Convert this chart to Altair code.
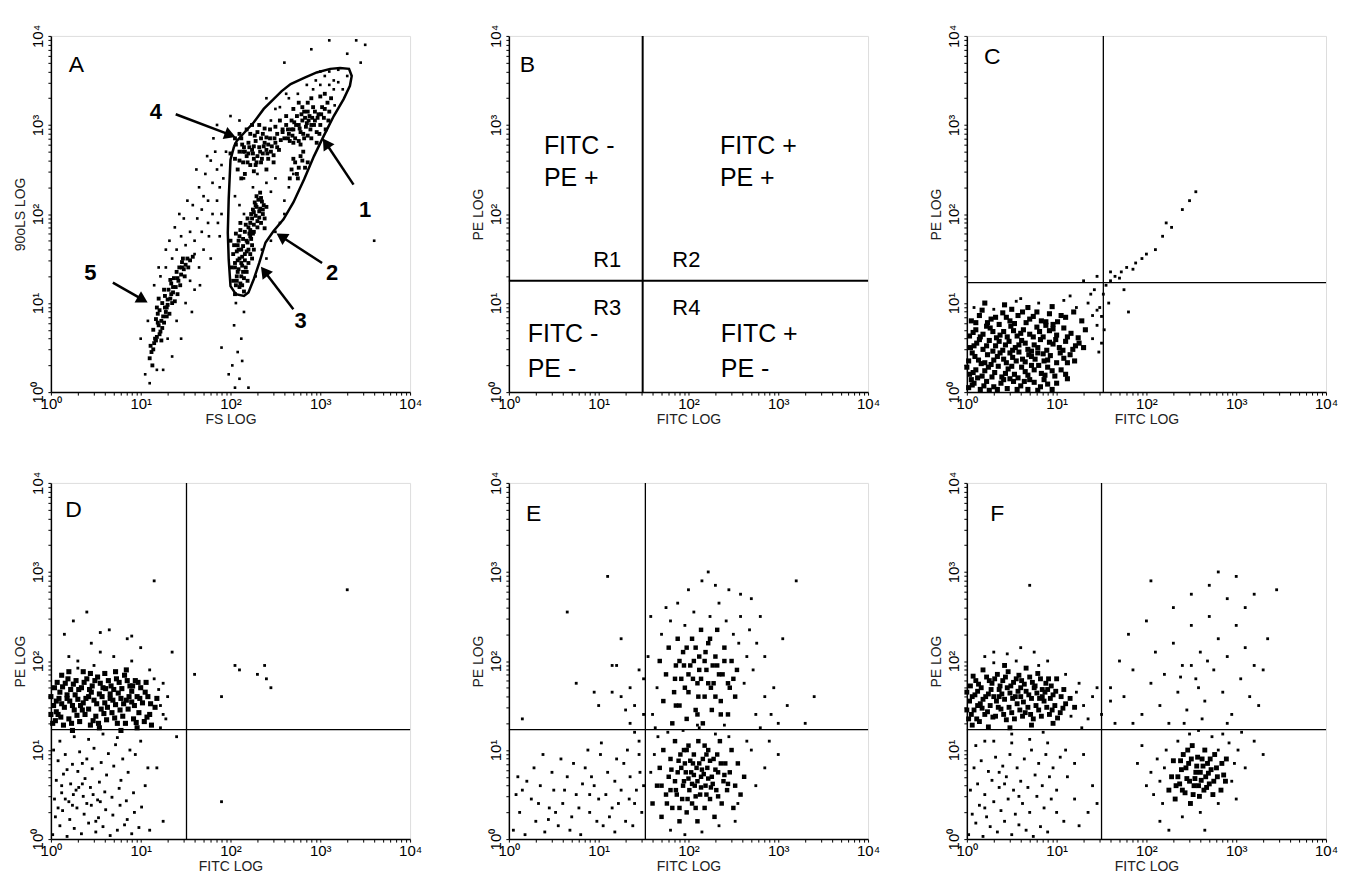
import math
import json
import altair as alt
import pandas as pd

# ---------------- axis text ----------------
MAJOR = [1, 10, 100, 1000, 10000]
TICK_LABELS = ["10⁰", "10¹", "10²", "10³", "10⁴"]
MINOR = [m * 10 ** e for e in range(4) for m in range(2, 10)]

X_TITLES = ["FS LOG", "FITC LOG", "FITC LOG", "FITC LOG", "FITC LOG", "FITC LOG"]
Y_TITLES = ["90oLS LOG", "PE LOG", "PE LOG", "PE LOG", "PE LOG", "PE LOG"]
LETTERS = ["A", "B", "C", "D", "E", "F"]
LETTER_X = [0.20, 0.12, 0.19, 0.16, 0.19, 0.26]   # decades
LETTER_Y = [3.60, 3.60, 3.68, 3.62, 3.57, 3.57]

# quadrant cursors (decades)
QUAD_X = [None, 1.49, 1.52, 1.51, 1.52, 1.50]
QUAD_Y = [None, 1.25, 1.23, 1.23, 1.23, 1.23]

# panel B labels
B_TEXT = ["FITC -", "PE +", "FITC +", "PE +", "FITC -", "PE -", "FITC +", "PE -"]
B_TEXT_X = [0.39, 0.39, 2.35, 2.35, 0.21, 0.21, 2.36, 2.36]
B_TEXT_Y = [2.67, 2.31, 2.67, 2.31, 0.56, 0.17, 0.56, 0.17]
B_REGION = ["R1", "R2", "R3", "R4"]
B_REGION_X = [0.94, 1.82, 0.94, 1.82]
B_REGION_Y = [1.41, 1.41, 0.87, 0.87]

# panel A gate (hundredths of decades)
GATE_A = [(204,276),(200,261),(198,217),(197,179),(198,149),(200,119),(206,110),(215,108),
          (220,112),(226,127),(232,145),(239,168),(248,181),(259,194),(270,213),(282,239),
          (293,265),(304,288),(315,310),(326,329),(333,344),(335,355),(332,363),(322,364),
          (311,363),(296,359),(282,353),(267,346),(257,338),(248,329),(237,318),(226,303),
          (215,291),(207,282),(204,276)]
ARROW_NUM = ["1", "2", "3", "4", "5"]
ARROW_TAIL = [(337,233),(302,145),(270,93),(139,312),(69,123)]
ARROW_TIP = [(302,286),(250,179),(233,142),(207,286),(109,100)]
ARROW_LABEL_POS = [(350,205),(313,134),(278,80),(117,314),(44,134)]

# ---------------- events (hundredths of decades) ----------------
A_CORE = [(112,45),(115,55),(118,62),(114,70),(120,75),(122,68),(117,82),(125,85),(121,92),(128,90),
 (124,100),(130,98),(127,108),(133,105),(131,115),(136,112),(134,122),(139,118),(137,128),(142,125),
 (140,135),(145,132),(143,140),(148,138),(146,146),(150,143),(152,150),(155,148),(119,88),(126,78),
 (129,95),(135,100),(141,110),(116,60),(110,38),(113,30),(123,58),(132,88),(138,102),(144,120),
 (149,130),(153,140),(158,152),(120,105),(126,115),(118,95),(133,126),(147,150),(111,52),(124,72),
 (203,125),(207,130),(211,122),(215,128),(209,138),(213,142),(218,135),(205,145),(210,150),(216,148),
 (220,145),(207,158),(212,160),(218,158),(222,155),(204,165),(209,170),(214,172),(219,168),(224,165),
 (206,178),(211,182),(216,180),(221,178),(208,135),(217,140),(213,152),(223,172),(201,140),(226,160),
 (210,118),(215,113),(205,110),(219,125),(212,130),(208,148),(214,164),(220,185),(226,180),(203,155),
 (217,188),(211,190),(224,150),(206,120),(200,170),
 (222,182),(226,188),(230,185),(234,190),(224,195),(228,198),(232,196),(236,200),(225,205),(229,208),
 (233,206),(237,210),(227,213),(231,216),(235,214),(223,200),(238,195),(230,192),(226,202),(232,203),
 (228,210),(234,218),(229,220),(222,190),(236,205),(240,208),(233,224),(225,178),(219,195),(238,184),
 (205,262),(210,270),(208,250),(214,258),(218,265),(215,275),(220,280),(212,285),(222,255),(226,262),
 (224,272),(228,282),(232,275),(230,265),(234,258),(236,268),(238,280),(240,272),(242,262),(244,285),
 (246,276),(248,266),(250,280),(252,290),(254,272),(256,283),(258,292),(216,245),(222,290),(230,292),
 (238,296),(226,248),(240,250),(206,278),(200,268),(212,240),(218,295),(236,290),(244,295),(250,298),
 (228,255),(234,285),(242,278),(248,258),(220,268),(260,285),(210,290),(224,300),(232,300),(205,285),
 (214,270),(226,276),(240,286),(252,275),
 (268,250),(272,258),(276,252),(280,260),(274,245),(278,265),(283,252),(270,262),(286,258),(275,240),
 (281,270),(266,240),
 (258,295),(262,300),(265,290),(268,305),(270,295),(272,285),(274,310),(276,300),(278,292),(280,305),
 (282,315),(284,298),(286,288),(288,310),(290,300),(292,320),(294,305),(296,292),(298,312),(300,300),
 (302,320),(304,308),(306,295),(308,325),(310,315),(266,282),(270,280),(276,282),(282,285),(290,285),
 (296,280),(262,310),(270,318),(280,320),(290,330),(300,332),(305,335),(312,330),(286,325),(276,325),
 (264,285),(273,300),(287,305),(299,290),(309,305),(294,315),(283,308),(278,278),(268,295),(255,305)]
A_CORE_B = [(114,48),(117,58),(121,65),(119,78),(123,80),(127,95),(130,104),(136,118),(141,128),(146,140),
 (129,85),(134,110),(205,140),(209,160),(212,145),(214,135),(216,155),(218,170),(210,175),(207,125),
 (213,120),(220,160),(222,175),(208,165),(210,260),(216,270),(221,275),(225,268),(229,258),(233,270),
 (237,276),(241,268),(245,270),(249,285),(213,278),(227,288),(219,258),(235,262),(264,295),(271,303),
 (277,296),(281,290),(285,302),(289,295),(293,300),(297,308),(301,312),(279,312),(291,308),(305,318),
 (286,315),(269,288)]
A_SPREAD = [(105,20),(110,10),(118,25),(108,80),(115,120),(122,130),(128,140),(135,150),(140,160),(132,170),
 (145,175),(150,165),(138,185),(155,180),(160,170),(148,195),(163,195),(158,210),(168,205),(170,220),
 (175,215),(165,230),(180,235),(172,245),(185,250),(178,260),(190,255),(183,270),(188,230),(175,190),
 (168,180),(180,200),(185,215),(192,240),(160,155),(170,160),(176,175),(186,190),(155,125),(165,140),
 (178,150),(190,200),(195,270),(150,100),(160,115),(120,140),(128,160),(143,200),(152,215),(162,250),
 (174,265),(181,285),(130,60),(140,80),(100,60),(125,25),(135,40),(145,60),(157,90),(166,120),(188,175),
 (205,5),(210,15),(202,30),(208,45),(212,60),(204,75),(215,90),(206,100),(198,20),(213,35),(220,5),(190,50),
 (235,160),(240,150),(228,130),(245,170),(250,180),(255,190),(215,200),(210,210),(245,225),(250,240),
 (260,215),(265,230),(240,235),(225,230),(215,240),(270,245),(280,260),(230,245),(205,220),(260,200),
 (316,322),(315,340),(300,345),(292,340),(310,345),(305,355),(315,350),(320,348),(295,350),(310,360),
 (285,345),(275,335),(265,330),(255,320),(325,340),(330,355),(320,362),(300,360),(262,335),(250,318),
 (245,305),(340,395),(330,380),(350,390),(200,310),(185,300),(240,330),(260,370),(290,385),(310,395),
 (195,290),(210,305),(345,370),(360,170)]

C_CORE = [(2,5),(8,10),(15,3),(22,12),(30,6),(38,10),(45,4),(52,12),(60,7),(68,3),(75,11),(82,6),(90,9),
 (5,14),(25,2),(48,15),(70,14),(95,3),(3,20),(10,25),(17,18),(24,28),(31,22),(39,17),(46,26),(53,20),
 (61,28),(68,19),(75,25),(83,21),(90,28),(98,18),(12,16),(35,29),(57,16),(80,30),(105,25),(0,28),
 (2,35),(9,40),(16,32),(23,42),(30,36),(37,44),(44,33),(51,39),(58,45),(65,34),(72,40),(79,44),(86,35),
 (93,41),(100,33),(108,38),(115,42),(6,44),(27,31),(48,44),(62,37),(85,43),(120,35),
 (4,50),(11,55),(18,48),(25,58),(32,52),(40,47),(47,57),(54,50),(61,58),(68,48),(75,53),(82,59),(89,47),
 (96,54),(103,50),(110,57),(118,48),(125,55),(14,59),(36,57),(58,53),(72,46),(99,59),(130,50),
 (3,63),(10,70),(18,65),(26,72),(33,61),(41,68),(49,74),(56,63),(63,70),(70,65),(78,73),(85,62),(92,69),
 (100,64),(108,72),(116,66),(124,61),(132,70),(22,74),(45,62),(88,75),
 (5,80),(14,86),(23,78),(32,84),(40,89),(48,80),(57,86),(66,78),(74,85),(83,80),(92,88),(101,79),
 (110,84),(119,90),(128,80),(36,76),(62,90),(96,76),(20,100),(42,98),(68,95),(95,96)]
C_CORE_B = [(6,8),(19,7),(34,3),(41,14),(56,3),(64,12),(79,2),(86,14),(100,10),(112,15),
 (7,22),(20,24),(28,17),(43,21),(50,29),(65,23),(72,30),(87,19),(95,24),(110,20),
 (13,36),(20,33),(34,40),(41,37),(55,35),(69,42),(76,37),(90,36),(104,44),(112,33),
 (8,52),(22,52),(29,46),(43,53),(51,47),(65,55),(79,50),(92,56),(107,47),(121,52),
 (7,67),(15,62),(29,68),(37,64),(52,69),(60,66),(74,62),(81,68),(96,71),(112,62),
 (10,78),(27,82),(44,84),(53,77),(70,82),(88,79),(105,86),(17,92),(50,93),(78,90)]
C_SPREAD = [(8,95),(30,93),(55,102),(80,100),(108,103),(122,95),(135,100),(145,92),(60,105),(115,108),(140,86),
 (140,60),(145,75),(150,55),(148,95),(152,110),(155,120),(142,115),(158,100),(150,85),(138,110),(147,45),
 (153,70),(160,125),(165,130),(170,128),(172,135),(178,140),(185,138),(188,145),(195,150),(200,155),
 (210,160),(218,175),(222,190),(228,185),(240,205),(248,215),(255,225),(130,125),(145,130),(160,135),
 (175,115),(180,90)]

D_CORE = [(2,130),(8,140),(14,128),(20,135),(26,145),(32,132),(38,140),(44,128),(50,138),(56,146),(62,134),
 (68,142),(74,130),(80,138),(86,146),(92,135),(98,142),(104,132),(110,140),(116,148),
 (3,150),(9,158),(15,148),(21,155),(27,162),(33,150),(39,158),(45,165),(51,152),(57,160),(63,148),
 (69,156),(75,164),(81,152),(87,160),(93,150),(99,158),(105,165),(111,152),(118,158),
 (4,170),(10,165),(16,175),(22,168),(28,178),(34,170),(40,180),(46,172),(52,182),(58,170),(64,178),
 (70,168),(76,176),(82,184),(88,172),(94,178),(100,170),(106,176),(12,184),(36,188),(60,186),(84,190),
 (6,143),(18,162),(42,146),(66,163),(90,166),(54,125),(78,122),(24,122),(96,125),(112,128),(0,160),(0,140)]
D_CORE_B = [(5,133),(11,137),(23,130),(29,139),(35,145),(47,133),(53,130),(59,141),(71,136),(77,145),(83,130),
 (95,131),(107,137),(6,155),(12,152),(18,158),(24,150),(30,157),(36,153),(42,160),(48,156),(54,163),
 (60,153),(66,158),(72,151),(78,158),(84,156),(90,154),(96,160),(102,153),(108,160),(7,176),(13,171),
 (19,180),(25,174),(31,168),(37,176),(43,168),(49,178),(55,175),(61,169),(67,172),(73,180),(79,169),
 (85,178),(91,172),(97,176),(20,188),(44,186),(72,188)]
D_SPREAD = [(30,200),(20,205),(55,210),(70,205),(90,200),(100,215),(45,220),(15,230),(65,235),(25,245),
 (85,225),(110,190),(115,180),(125,175),(130,160),(128,135),(122,125),(122,150),(125,140),(120,168),
 (30,192),(48,195),(115,290),(40,255),(55,232),(90,228),(135,210),(160,185),(205,195),(210,190),
 (230,185),(240,180),(238,195),(245,170),(190,160),(330,280),(190,42),(140,115),(100,110),(118,80),
 (125,20),(110,10),
 (2,5),(10,15),(18,3),(26,12),(34,6),(42,18),(50,8),(58,14),(66,4),(74,10),(82,16),(90,6),(98,13),
 (5,25),(13,32),(21,22),(29,35),(37,28),(45,38),(53,24),(61,33),(69,27),(77,38),(85,22),(93,30),(101,36),
 (4,45),(12,52),(20,42),(28,55),(36,48),(44,58),(52,44),(60,53),(68,47),(76,57),(84,43),(92,52),
 (6,66),(14,73),(22,62),(30,76),(38,68),(46,79),(54,64),(62,72),(70,82),(78,66),(86,75),
 (8,88),(16,95),(24,84),(32,98),(40,90),(48,102),(56,86),(64,96),(72,106),(80,90),(88,100),
 (10,110),(26,115),(42,112),(58,118),(74,114),(94,95),(105,60),(108,80),(3,100),(18,78),(35,85),(50,20),
 (8,35),(16,45),(24,38),(31,58),(40,40),(47,50),(55,42),(12,60),(35,62),(25,50)]

E_CORE = [(160,40),(165,60),(168,80),(170,25),(172,100),(175,50),(178,70),(180,90),(182,35),(185,110),
 (186,55),(188,75),(190,20),(191,95),(193,45),(195,65),(196,85),(198,30),(200,105),(201,55),(203,75),
 (204,40),(206,95),(207,60),(209,80),(210,20),(211,110),(213,50),(214,70),(216,90),(218,35),(219,60),
 (221,80),(222,100),(224,45),(226,70),(228,90),(229,25),(231,55),(233,75),(235,110),(237,40),(239,65),
 (241,85),(243,55),(246,75),(248,100),(250,35),(252,60),(255,85),(258,50),(262,70),(205,85),(200,68),
 (215,78),(192,80),(225,58),(185,65),(208,48),(220,95),(198,100),
 (168,200),(172,155),(175,185),(178,215),(182,130),(184,165),(186,195),(188,225),(190,150),(192,180),
 (194,210),(198,135),(200,165),(202,195),(204,225),(208,145),(210,175),(212,205),(214,235),(216,130),
 (218,160),(220,190),(222,220),(226,145),(228,175),(230,205),(232,235),(236,155),(238,185),(240,215),
 (244,140),(246,170),(248,200),(252,160),(254,190),(205,180),(218,200),(225,170),(212,190),(195,195),
 (232,195),(208,215)]
E_CORE_B = [(170,60),(176,40),(181,78),(187,50),(189,88),(194,60),(197,75),(199,45),(202,88),(204,62),
 (206,72),(208,35),(210,65),(212,85),(214,58),(217,73),(220,50),(222,68),(224,88),(227,62),(230,78),
 (233,48),(236,85),(240,72),(244,62),(180,55),(195,100),(218,105),(190,35),(232,95),
 (185,180),(190,200),(196,170),(200,185),(206,200),(211,160),(214,180),(219,210),(222,175),(227,195),
 (230,160),(234,185),(240,200),(244,175),(198,215),(224,225),(210,140),(236,140),(186,150),(250,180)]
E_SPREAD = [(5,10),(12,30),(18,5),(25,45),(30,20),(35,60),(40,8),(45,35),(50,55),(55,15),(60,40),(65,70),
 (70,25),(75,50),(80,5),(85,80),(90,30),(95,60),(100,45),(105,15),(110,75),(115,35),(120,90),(125,55),
 (130,20),(135,70),(140,40),(145,95),(150,60),(20,65),(28,80),(48,75),(58,90),(68,10),(78,35),(88,100),
 (98,20),(108,50),(118,65),(128,85),(138,15),(148,30),(8,50),(15,55),(38,95),(62,55),(72,85),(92,70),
 (102,95),(112,25),(122,40),(132,100),(142,55),(44,22),(82,62),(10,70),(33,40),(52,30),(118,8),(90,50),
 (134,45),(146,75),(103,108),
 (110,295),(65,255),(125,225),(120,195),(115,195),(75,175),(115,165),(125,160),(135,170),(140,150),
 (135,130),(145,190),(100,150),(95,165),(150,140),(15,135),(130,145),(145,110),(140,120),
 (166,115),(177,120),(194,122),(212,125),(230,118),(245,115),(158,75),(162,95),(180,10),(196,5),
 (215,8),(234,15),(252,20),
 (160,140),(165,170),(170,230),(180,245),(196,240),(206,255),(224,250),(234,265),(242,245),(250,230),
 (256,220),(258,250),(262,175),(265,205),(268,235),(272,190),(276,220),(280,250),(285,205),(200,280),
 (215,290),(230,285),(245,280),(258,275),(270,270),(222,300),(188,265),(175,260),(155,205),(150,180),
 (158,250),(163,125),(210,128),(240,128),
 (320,290),(305,225),(295,170),(300,130),(310,150),(292,140),(285,160),(280,125),(275,140),(290,110),
 (270,100),(285,80),(275,60),(265,110),(255,40),(300,95),(330,130),(340,160)]

F_CORE = [(2,135),(8,145),(14,132),(20,140),(26,150),(32,138),(38,146),(44,134),(50,142),(56,152),(62,138),
 (68,148),(74,135),(80,145),(86,155),(92,140),(98,150),(104,142),(110,152),
 (3,155),(9,162),(15,152),(21,160),(27,168),(33,155),(39,163),(45,170),(51,158),(57,166),(63,154),
 (69,162),(75,170),(81,158),(87,165),(93,158),(99,166),(105,160),(115,158),(120,148),
 (4,172),(10,178),(16,170),(22,182),(28,175),(34,185),(40,178),(46,188),(52,176),(58,184),(64,174),
 (70,182),(76,172),(82,180),(88,175),(94,172),(100,180),(18,190),(42,195),(66,192),
 (6,128),(24,126),(48,125),(72,128),(96,130),(12,150),(36,160),(60,160),(84,168),(0,145),(0,165),
 (232,45),(237,62),(239,78),(241,95),(243,52),(245,68),(247,85),(251,105),(253,60),(255,75),(257,92),
 (259,48),(261,66),(263,82),(265,100),(267,58),(269,74),(271,90),(275,65),(278,80),(283,55),(286,72),
 (289,90),(249,40),(230,88),(228,70),(225,55)]
F_CORE_B = [(5,140),(11,135),(17,147),(23,143),(29,137),(35,148),(41,140),(47,148),(53,135),(59,145),
 (65,142),(71,140),(77,150),(83,138),(89,148),(95,145),(101,136),(107,147),(6,160),(12,166),(18,157),
 (24,163),(30,160),(36,168),(42,157),(48,164),(54,160),(60,170),(66,166),(72,158),(78,164),(84,160),
 (90,168),(96,162),(108,168),(7,183),(13,174),(25,178),(31,180),(37,172),(43,182),(49,172),(55,180),
 (61,178),(73,176),(79,186),(91,180),(235,70),(240,55),(244,80),(248,65),(250,90),(252,50),(254,68),
 (256,82),(258,60),(260,75),(262,90),(264,55),(266,70),(268,85),(270,62),(272,78),(274,50),(276,95),
 (279,70),(284,85),(288,65),(246,100),(238,88),(233,60)]
F_SPREAD = [(30,198),(55,200),(80,195),(116,138),(122,165),
 (30,210),(60,215),(75,210),(45,208),(20,205),(90,200),(110,185),(125,175),(130,150),(135,135),(128,125),
 (140,160),(150,140),(145,170),(160,155),(70,285),(20,110),(50,118),(85,120),
 (2,5),(10,18),(18,3),(26,14),(34,8),(42,20),(50,5),(58,16),(66,10),(74,3),(82,14),(90,8),(6,28),(14,38),
 (22,25),(30,42),(38,32),(46,45),(54,28),(62,40),(70,30),(78,48),(86,35),(94,45),(4,55),(12,62),(20,50),
 (28,66),(36,58),(44,70),(52,55),(60,65),(68,58),(76,72),(84,60),(92,70),(100,55),(8,80),(16,88),(24,76),
 (32,92),(40,82),(48,95),(56,80),(64,90),(72,100),(80,85),(88,95),(96,80),(104,92),(112,70),(120,85),
 (10,105),(30,110),(50,108),(70,112),(90,108),(110,100),(130,95),(140,60),(135,30),(120,45),(108,20),
 (125,15),(145,40),(100,30),(20,35),(42,62),(58,48),(36,75),
 (200,60),(205,75),(208,50),(212,90),(215,65),(218,40),(220,80),(222,100),(235,110),(273,115),(280,100),
 (292,108),(295,65),(298,85),(302,100),(306,120),(310,80),(248,118),(258,122),(285,118),(240,25),
 (260,30),(280,40),(215,20),(190,85),(195,105),(300,45),(320,110),(330,95),(265,10),(225,10),
 (165,130),(175,160),(185,190),(195,140),(205,175),(210,210),(215,150),(220,185),(225,130),(230,220),
 (235,165),(240,195),(245,145),(250,240),(255,180),(260,210),(265,155),(270,250),(275,190),(280,225),
 (285,165),(290,205),(295,140),(300,240),(305,180),(310,215),(315,160),(320,195),(325,150),(230,260),
 (250,275),(270,285),(290,270),(310,260),(200,245),(180,230),(170,200),(160,170),(335,225),(330,190),
 (205,290),(280,300),(300,295),(320,275),(345,280),(185,130),(262,135),(242,130),(290,130),(250,195),
 (258,170),(238,182),(268,200)]

CORES = [A_CORE + A_CORE_B, None, C_CORE + C_CORE_B, D_CORE + D_CORE_B, E_CORE + E_CORE_B, F_CORE + F_CORE_B]
SPREADS = [A_SPREAD, None, C_SPREAD, D_SPREAD, E_SPREAD, F_SPREAD]
CORE_SIZE = [15, 0, 26, 26, 20, 24]
SPREAD_SIZE = [7, 0, 8, 8, 8, 8]

FONT = "Liberation Sans"
W, H = 360, 357
SCALE = alt.Scale(type="log", domain=[1, 10000], nice=False, zero=False)


def lin(v):
    return 10 ** (v / 100.0)


def pts_df(pts):
    return pd.DataFrame({"x": [lin(p[0]) for p in pts], "y": [lin(p[1]) for p in pts]})


label_expr = (
    f"indexof({json.dumps(MAJOR)}, datum.value) >= 0 ? "
    f"{json.dumps(TICK_LABELS, ensure_ascii=False)}[indexof({json.dumps(MAJOR)}, datum.value)] : ''"
)


def xaxis(title):
    return alt.Axis(values=MAJOR + MINOR, labelExpr=label_expr, title=title, grid=False,
                    tickSize=3, tickColor="black", domainColor="black", domainWidth=1.5,
                    labelColor="black", labelFont=FONT, labelFontSize=15, labelPadding=1,
                    labelOverlap=False, labelFlush=False, titleFont=FONT, titleFontSize=14,
                    titleFontWeight="normal", titleColor="#222", titlePadding=1)


def yaxis(title):
    return alt.Axis(values=MAJOR + MINOR, labelExpr=label_expr, title=title, grid=False,
                    tickSize=3, tickColor="black", domainColor="black", domainWidth=1.5,
                    labelColor="black", labelFont=FONT, labelFontSize=15, labelPadding=2,
                    labelAngle=270, labelAlign="center", labelBaseline="bottom",
                    labelOverlap=False, labelFlush=False, titleFont=FONT, titleFontSize=14,
                    titleFontWeight="normal", titleColor="#222", titlePadding=3)


def panel(i):
    X = alt.X("x:Q", scale=SCALE, axis=xaxis(X_TITLES[i]))
    Y = alt.Y("y:Q", scale=SCALE, axis=yaxis(Y_TITLES[i]))
    layers = []
    if SPREADS[i]:
        layers.append(alt.Chart(pts_df(SPREADS[i])).mark_square(size=SPREAD_SIZE[i], color="black", opacity=1)
                      .encode(x=X, y=Y))
    if CORES[i]:
        layers.append(alt.Chart(pts_df(CORES[i])).mark_square(size=CORE_SIZE[i], color="black", opacity=1)
                      .encode(x=X, y=Y))
    if QUAD_X[i] is not None:
        sw = 2 if i == 1 else 1.3
        layers.append(alt.Chart(pd.DataFrame({"x": [lin(QUAD_X[i] * 100)]}))
                      .mark_rule(color="black", strokeWidth=sw).encode(x=X))
        layers.append(alt.Chart(pd.DataFrame({"y": [lin(QUAD_Y[i] * 100)]}))
                      .mark_rule(color="black", strokeWidth=sw).encode(y=Y))
    if i == 0:
        g = pd.DataFrame({"x": [lin(p[0]) for p in GATE_A], "y": [lin(p[1]) for p in GATE_A],
                          "o": list(range(len(GATE_A)))})
        layers.append(alt.Chart(g).mark_line(color="black", strokeWidth=2.5)
                      .encode(x=X, y=Y, order="o:Q"))
        rows, heads, labs = [], [], []
        for k in range(len(ARROW_NUM)):
            t, p = ARROW_TAIL[k], ARROW_TIP[k]
            dx = (p[0] - t[0]) / 100 * 90.0
            dy = (p[1] - t[1]) / 100 * 89.0
            L = math.hypot(dx, dy)
            ang = math.degrees(math.atan2(dx, dy)) % 360
            back = 7.0 / L
            hx = p[0] - (p[0] - t[0]) * back
            hy = p[1] - (p[1] - t[1]) * back
            rows += [{"x": lin(t[0]), "y": lin(t[1]), "a": k, "o": 0},
                     {"x": lin(hx), "y": lin(hy), "a": k, "o": 1}]
            heads.append({"x": lin(hx), "y": lin(hy), "ang": ang})
            lp = ARROW_LABEL_POS[k]
            labs.append({"x": lin(lp[0]), "y": lin(lp[1]), "t": ARROW_NUM[k]})
        layers.append(alt.Chart(pd.DataFrame(rows)).mark_line(color="black", strokeWidth=2.5)
                      .encode(x=X, y=Y, detail="a:N", order="o:Q"))
        layers.append(alt.Chart(pd.DataFrame(heads))
                      .mark_point(shape="triangle-up", filled=True, color="black", size=170, opacity=1)
                      .encode(x=X, y=Y, angle=alt.Angle("ang:Q", scale=None)))
        layers.append(alt.Chart(pd.DataFrame(labs))
                      .mark_text(font=FONT, fontSize=22, fontWeight="bold", color="black",
                                 align="center", baseline="middle")
                      .encode(x=X, y=Y, text="t:N"))
    if i == 1:
        bt = pd.DataFrame({"x": [lin(v * 100) for v in B_TEXT_X], "y": [lin(v * 100) for v in B_TEXT_Y],
                           "t": B_TEXT})
        layers.append(alt.Chart(bt).mark_text(font=FONT, fontSize=25, color="black", align="left",
                                              baseline="alphabetic").encode(x=X, y=Y, text="t:N"))
        br = pd.DataFrame({"x": [lin(v * 100) for v in B_REGION_X], "y": [lin(v * 100) for v in B_REGION_Y],
                           "t": B_REGION})
        layers.append(alt.Chart(br).mark_text(font=FONT, fontSize=22, color="black", align="left",
                                              baseline="alphabetic").encode(x=X, y=Y, text="t:N"))
    letter = pd.DataFrame({"x": [lin(LETTER_X[i] * 100)], "y": [lin(LETTER_Y[i] * 100)], "t": [LETTERS[i]]})
    layers.append(alt.Chart(letter).mark_text(font=FONT, fontSize=23, color="black", align="left",
                                              baseline="alphabetic").encode(x=X, y=Y, text="t:N"))
    return alt.layer(*layers).properties(width=W, height=H)


row1 = alt.hconcat(panel(0), panel(1), panel(2), spacing=48)
row2 = alt.hconcat(panel(3), panel(4), panel(5), spacing=48)
chart = alt.vconcat(row1, row2, spacing=43).properties(
    padding={"left": 5, "top": 14, "right": 0, "bottom": 0}
).configure_view(stroke="black", strokeWidth=1.5).configure(background="white")

chart.save("out.html", embed_options={"renderer": "svg", "actions": False})
